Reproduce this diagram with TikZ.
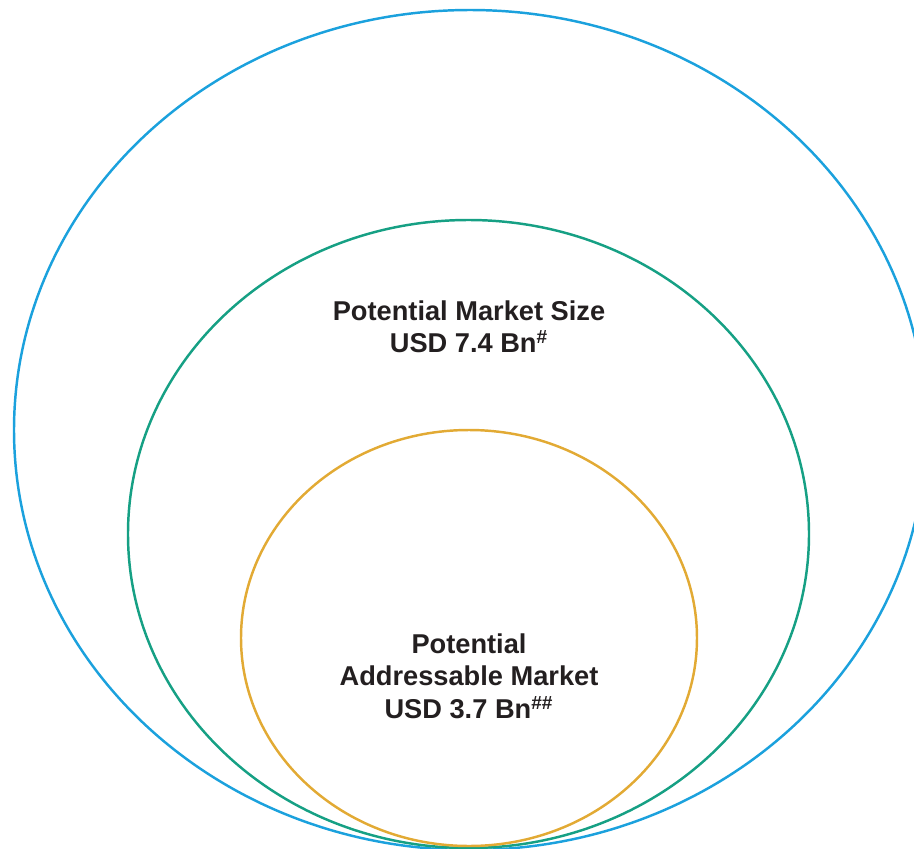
\documentclass[tikz,border=0pt]{standalone}
\usepackage{fontspec}
\setmainfont{Liberation Sans}

\definecolor{mktblue}{RGB}{27,161,221}
\definecolor{mktgreen}{RGB}{22,160,132}
\definecolor{mktorange}{RGB}{226,170,52}
\definecolor{mkttext}{RGB}{35,31,32}

\begin{document}
\begin{tikzpicture}[
      x=0.02cm, y=-0.02cm,
      ring/.style={line width=1.4pt},
      lbl/.style={align=center, text=mkttext, inner sep=0pt, font=\fontsize{15.5}{18.5}\selectfont\bfseries}]
    \useasboundingbox (0,0) rectangle (914,849);
    \clip (0,0) rectangle (914,849);
    \draw[ring, mktblue] (470,430) ellipse [x radius=456, y radius=420];
    \draw[ring, mktgreen] (468.5,534) ellipse [x radius=340.5, y radius=314];
    \draw[ring, mktorange] (469,638) ellipse [x radius=228, y radius=208];
    \node[lbl] (size) at (469,327) {Potential Market Size\\USD 7.4 Bn\textsuperscript{\#}};
    \node[lbl] (pam) at (469,676) {Potential\\Addressable Market\\USD 3.7 Bn\textsuperscript{\#\#}};
  \end{tikzpicture}
\end{document}
